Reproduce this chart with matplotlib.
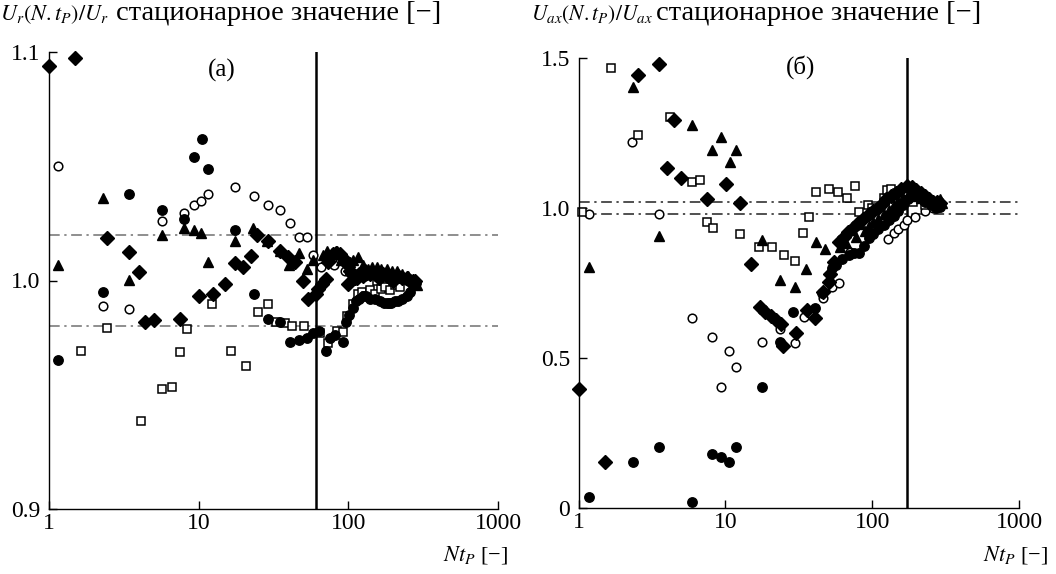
import matplotlib
matplotlib.use('Agg')
import matplotlib.pyplot as plt
from matplotlib.ticker import NullLocator

plt.rcParams['font.family'] = ['Liberation Serif', 'DejaVu Serif']
plt.rcParams['mathtext.fontset'] = 'stix'

# ---- (a) U_r ----
a_fc_x = [1.14, 2.3, 3.44, 5.71, 8.0, 9.26, 10.5, 11.6, 17.4, 23.3, 28.9, 34.9, 40.7, 46.8, 52.6, 58.3, 64,
          70.5, 76, 81.4, 91.6, 96, 101, 107, 113, 118, 125, 132, 140, 150, 163, 172, 180, 188, 194, 205,
          215, 230, 245, 258, 272, 285]
a_fc_y = [0.965, 0.995, 1.038, 1.031, 1.027, 1.054, 1.062, 1.049, 1.022, 0.994, 0.983, 0.982, 0.973, 0.974,
          0.975, 0.977, 0.978, 0.969, 0.975, 0.976, 0.973, 0.982, 0.985, 0.988, 0.991, 0.992, 0.993, 0.993,
          0.992, 0.992, 0.991, 0.990, 0.990, 0.990, 0.990, 0.991, 0.991, 0.992, 0.993, 0.995, 0.998, 0.999]
a_oc_x = [1.14, 2.28, 3.44, 5.71, 8.0, 9.26, 10.4, 11.6, 17.5, 23.4, 28.9, 34.9, 40.7, 46.8, 52.6, 57.8,
          66, 80, 95, 110, 130, 160, 190, 220, 250]
a_oc_y = [1.050, 0.989, 0.9875, 1.026, 1.0295, 1.033, 1.035, 1.038, 1.041, 1.037, 1.033, 1.031, 1.025,
          1.019, 1.019, 1.011, 1.006, 1.007, 1.004, 1.003, 1.002, 1.0, 1.0, 1.0, 1.0]
a_tr_x = [1.14, 2.3, 3.44, 5.71, 8.0, 9.26, 10.4, 11.6, 17.4, 23.2, 28.5, 34.9, 40.2, 46.8, 52.6, 58.3,
          68, 72, 78, 84, 90, 95, 102, 108, 116, 125, 135, 145, 155, 165, 180, 195, 210, 230, 250, 270, 286]
a_tr_y = [1.007, 1.036, 1.0003, 1.020, 1.023, 1.022, 1.021, 1.008, 1.0175, 1.023, 1.0175, 1.013, 1.007,
          1.012, 1.005, 1.009, 1.011, 1.013, 1.012, 1.013, 1.009, 1.010, 1.008, 1.009, 1.0105, 1.007, 1.005,
          1.006, 1.006, 1.005, 1.005, 1.004, 1.004, 1.003, 1.002, 1.0, 0.998]
a_dm_x = [1.0, 1.49, 2.45, 3.44, 4.01, 4.38, 5.03, 7.5, 10.0, 12.4, 15.1, 17.5, 19.9, 22.2, 24.6, 29.2,
          34.9, 39.7, 44, 50, 54, 60.8, 63, 67, 70.8, 73.4, 79.3, 83, 87.9, 92, 97.5, 99.8, 103, 106, 110,
          115, 118, 125, 130, 140, 150, 160, 170, 180, 190, 200, 215, 230, 245, 260, 270, 280]
a_dm_y = [1.094, 1.0975, 1.0187, 1.0124, 1.0039, 0.9818, 0.9825, 0.9832, 0.9931, 0.9939, 0.9985, 1.0076,
          1.0061, 1.0106, 1.0197, 1.0175, 1.0131, 1.0102, 1.008, 0.9997, 0.992, 0.9939, 0.9964, 0.9985,
          1.0007, 1.008, 1.0117, 1.012, 1.0117, 1.010, 1.0073, 0.9985, 1.004, 1.003, 1.001, 1.001, 1.003,
          1.002, 1.004, 1.003, 1.003, 1.001, 1.003, 1.002, 1.002, 1.0, 1.002, 1.001, 1.001, 1.0, 1.0, 1.0]
a_sq_x = [1.63, 2.45, 4.12, 5.71, 6.6, 7.5, 8.3, 12.3, 16.4, 20.6, 24.8, 28.9, 33, 37.7, 41.8, 50.5,
          64.5, 73.4, 83.5, 92.5, 98.3, 108, 116, 124, 132, 140, 150, 155, 166, 175, 190, 205, 220]
a_sq_y = [0.969, 0.9793, 0.9384, 0.9526, 0.9533, 0.9685, 0.9786, 0.9896, 0.969, 0.9624, 0.9864, 0.9896,
          0.982, 0.9813, 0.980, 0.9803, 0.9769, 0.9726, 0.9781, 0.9774, 0.9844, 0.9895, 0.9942, 0.995,
          0.9934, 0.996, 0.9942, 1.0, 0.9964, 0.997, 0.996, 0.998, 0.997]

# ---- (б) U_ax ----
b_fc_x = [1.17, 2.34, 3.54, 5.97, 8.09, 9.36, 10.6, 11.8, 17.7, 23.6, 29.1, 41, 45.5, 53.3, 57, 62, 69,
          75, 81.7, 88, 95, 102, 110, 120, 130, 140, 150, 162, 175, 188, 200, 215, 230, 250, 270, 290]
b_fc_y = [0.037, 0.155, 0.205, 0.02, 0.181, 0.17, 0.155, 0.205, 0.405, 0.555, 0.653, 0.667, 0.717, 0.80,
          0.81, 0.83, 0.844, 0.85, 0.85, 0.875, 0.9, 0.915, 0.93, 0.945, 0.96, 0.975, 0.99, 1.01, 1.03,
          1.04, 1.05, 1.035, 1.02, 1.01, 1.0, 1.005]
b_oc_x = [1.17, 2.33, 3.54, 5.91, 8.09, 9.36, 10.6, 11.8, 17.7, 23.6, 29.6, 34.6, 46.6, 53.3, 59, 71,
          129, 140, 151, 164, 173, 197, 230, 260]
b_oc_y = [0.981, 1.22, 0.981, 0.633, 0.572, 0.405, 0.524, 0.472, 0.555, 0.597, 0.55, 0.639, 0.70, 0.739,
          0.752, 0.855, 0.897, 0.917, 0.93, 0.944, 0.961, 0.972, 0.99, 1.0]
b_tr_x = [1.17, 2.34, 3.54, 5.97, 8.17, 9.4, 10.7, 11.8, 17.7, 23.6, 29.6, 35.4, 41.6, 47.4, 60, 66,
          72.8, 78, 83, 89, 95, 102, 110, 120, 130, 140, 150, 162, 175, 188, 200, 215, 230, 245, 260, 275,
          290, 300]
b_tr_y = [0.803, 1.405, 0.909, 1.278, 1.194, 1.239, 1.153, 1.194, 0.894, 0.761, 0.737, 0.797, 0.889,
          0.864, 0.87, 0.885, 0.928, 0.905, 0.948, 0.925, 0.94, 0.955, 0.965, 0.98, 0.995, 1.01, 1.02, 1.035,
          1.045, 1.05, 1.04, 1.035, 1.03, 1.025, 1.02, 1.02, 1.03, 1.018]
b_dm_x = [1.0, 1.52, 2.53, 3.54, 3.99, 4.5, 5.0, 7.48, 10.1, 12.6, 14.9, 17.3, 18.7, 20.4, 22.2, 24.0,
          24.7, 30.2, 36, 41, 46.6, 50.5, 52, 55, 59, 64, 68, 74, 80, 87, 95, 102, 110, 117, 125, 135, 145,
          158, 173, 186, 200, 215, 230, 245, 260, 275, 291]
b_dm_y = [0.398, 0.153, 1.444, 1.481, 1.135, 1.294, 1.1, 1.03, 1.08, 1.019, 0.813, 0.672, 0.655, 0.641,
          0.628, 0.614, 0.541, 0.583, 0.661, 0.633, 0.722, 0.755, 0.78, 0.82, 0.889, 0.905, 0.922, 0.935,
          0.95, 0.965, 0.98, 0.99, 1.0, 1.015, 1.03, 1.04, 1.05, 1.065, 1.074, 1.07, 1.06, 1.05, 1.04,
          1.03, 1.02, 1.02, 1.017]
b_sq_x = [1.05, 1.67, 2.53, 4.2, 5.94, 6.73, 7.55, 8.3, 12.6, 16.9, 20.9, 24.9, 29.6, 33.6, 37.4, 41.4,
          50.5, 58.1, 67.3, 76.3, 81.7, 93, 100, 120, 126, 134, 148, 165, 190, 230]
b_sq_y = [0.989, 1.467, 1.244, 1.305, 1.089, 1.094, 0.955, 0.933, 0.913, 0.872, 0.872, 0.844, 0.825,
          0.919, 0.970, 1.053, 1.063, 1.053, 1.035, 1.075, 0.989, 1.011, 1.0, 1.033, 1.061, 1.063, 1.05,
          1.04, 1.02, 1.01]

x_ticks = [1, 10, 100, 1000]
x_ticklabels = ['1', '10', '100', '1000']
a_yticks = [0.9, 1.0, 1.1]
a_yticklabels = ['0.9', '1.0', '1.1']
b_yticks = [0, 0.5, 1.0, 1.5]
b_yticklabels = ['0', '0.5', '1.0', '1.5']
a_band = [0.98, 1.02]
b_band = [0.98, 1.02]
a_vline = 61
b_vline = 173

FS = 17


def setup_axis(ax, ylim, yticks, yticklabels):
    ax.set_xscale('log')
    ax.set_xlim(1, 1000)
    ax.set_ylim(*ylim)
    ax.spines['top'].set_visible(False)
    ax.spines['right'].set_visible(False)
    for s in ('left', 'bottom'):
        ax.spines[s].set_linewidth(1.0)
    ax.set_xticks(x_ticks)
    ax.set_xticklabels(x_ticklabels)
    ax.xaxis.set_minor_locator(NullLocator())
    ax.set_yticks(yticks)
    ax.set_yticklabels(yticklabels)
    ax.tick_params(direction='in', length=6, width=1, labelsize=FS)
    ax.tick_params(axis='x', pad=3)
    ax.tick_params(axis='y', pad=6)


def draw_points(ax, fc, oc, tr, dm, sq):
    # open symbols first, filled on top
    ax.plot(oc[0], oc[1], 'o', ms=6.2, mfc='white', mec='k', mew=1.1, ls='none', clip_on=False)
    ax.plot(sq[0], sq[1], 's', ms=6.4, mfc='white', mec='k', mew=1.1, ls='none', clip_on=False)
    ax.plot(fc[0], fc[1], 'o', ms=6.8, color='k', ls='none', clip_on=False)
    ax.plot(tr[0], tr[1], '^', ms=7.2, color='k', ls='none', clip_on=False)
    ax.plot(dm[0], dm[1], 'D', ms=6.8, color='k', ls='none', clip_on=False)


def main():
    fig = plt.figure(figsize=(10.56, 5.74), dpi=100)
    ax1 = fig.add_axes([49 / 1056, 65 / 574, 449 / 1056, 457 / 574])
    ax2 = fig.add_axes([578.5 / 1056, 65.7 / 574, 440.5 / 1056, 450 / 574])

    # (a)
    setup_axis(ax1, (0.9, 1.1), a_yticks, a_yticklabels)
    for v in a_band:
        ax1.axhline(v, color='#707070', lw=1.1, ls=(0, (7, 3, 1.5, 3)))
    ax1.axvline(a_vline, color='k', lw=1.8)
    draw_points(ax1, (a_fc_x, a_fc_y), (a_oc_x, a_oc_y), (a_tr_x, a_tr_y),
                (a_dm_x, a_dm_y), (a_sq_x, a_sq_y))

    # (б)
    setup_axis(ax2, (0, 1.5), b_yticks, b_yticklabels)
    for v in b_band:
        ax2.axhline(v, color='#202020', lw=1.1, ls=(0, (7, 3, 1.5, 3)))
    ax2.axvline(b_vline, color='k', lw=1.8)
    draw_points(ax2, (b_fc_x, b_fc_y), (b_oc_x, b_oc_y), (b_tr_x, b_tr_y),
                (b_dm_x, b_dm_y), (b_sq_x, b_sq_y))

    # заголовки осей
    ty = 1 - 20 / 574
    fig.text(0.0, ty, r'$U_r(N.t_P)/U_r$', fontsize=16, ha='left', va='baseline')
    fig.text(116 / 1056, ty, 'стационарное значение [−]', fontsize=20.5, ha='left', va='baseline')
    fig.text(531 / 1056, ty, r'$U_{ax}(N.t_P)/U_{ax}$', fontsize=15.5, ha='left', va='baseline')
    fig.text(656 / 1056, ty, 'стационарное значение [−]', fontsize=20.5, ha='left', va='baseline')
    fig.text(508 / 1056, 1 - 560 / 574, r'$Nt_P$ [−]', fontsize=16, ha='right', va='baseline')
    fig.text(1048 / 1056, 1 - 560 / 574, r'$Nt_P$ [−]', fontsize=16, ha='right', va='baseline')
    fig.text(222 / 1056, 1 - 70 / 574, '(a)', fontsize=18, ha='center', va='center')
    fig.text(801 / 1056, 1 - 67 / 574, '(б)', fontsize=18, ha='center', va='center')

    fig.savefig('out.png', dpi=100)


if __name__ == '__main__':
    main()
